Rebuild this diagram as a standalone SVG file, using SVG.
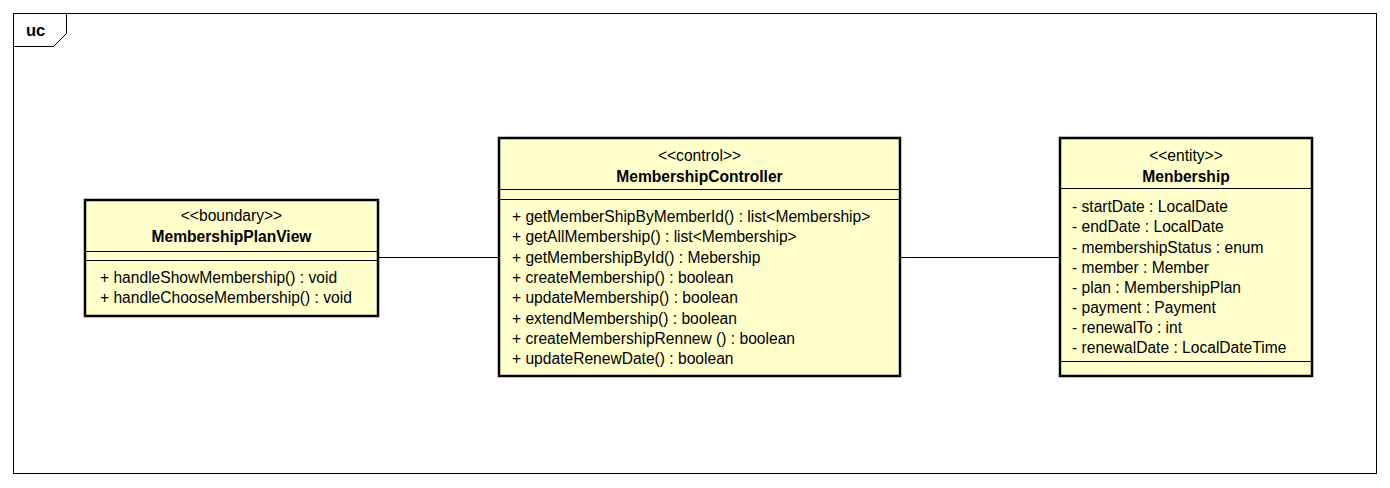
<svg xmlns="http://www.w3.org/2000/svg" width="1390" height="488" viewBox="0 0 1390 488">
<style>
.box{fill:#ffffcc;stroke:#000;stroke-width:2.5}
.sep{stroke:#000;stroke-width:1}
.t{font-family:"Liberation Sans",Arial,sans-serif;font-size:15.6px;fill:#000}
.c{text-anchor:middle}
.b{font-weight:bold}
.conn{stroke:#000;stroke-width:1;fill:none}
</style>
<rect width="1390" height="488" fill="#fff"/>
<g id="frame">
<rect x="13.5" y="13.5" width="1363" height="460" fill="none" stroke="#000" stroke-width="1"/>
<path d="M13.5 46.5 H53.5 L66.5 33.5 V13.5" fill="none" stroke="#000" stroke-width="1"/>
<text x="26" y="36" class="t b" style="font-size:16.5px">uc</text>
</g>
<g id="connectors">
<line x1="378" y1="257.5" x2="499" y2="257.5" class="conn"/>
<line x1="900" y1="257.5" x2="1060" y2="257.5" class="conn"/>
</g>
<g id="MembershipPlanView">
<rect x="85" y="200" width="293" height="116" class="box"/>
<line x1="85" y1="251.5" x2="378" y2="251.5" class="sep"/>
<line x1="85" y1="260.5" x2="378" y2="260.5" class="sep"/>
<text x="231.5" y="220.5" class="t c">&lt;&lt;boundary&gt;&gt;</text>
<text x="231.5" y="241.5" class="t c b">MembershipPlanView</text>
<text x="100" y="282.5" class="t">+ handleShowMembership() : void</text>
<text x="100" y="302.5" class="t">+ handleChooseMembership() : void</text>
</g>
<g id="MembershipController">
<rect x="499" y="138" width="401" height="238" class="box"/>
<line x1="499" y1="189.5" x2="900" y2="189.5" class="sep"/>
<line x1="499" y1="199.5" x2="900" y2="199.5" class="sep"/>
<text x="699.5" y="160.5" class="t c">&lt;&lt;control&gt;&gt;</text>
<text x="699.5" y="181.5" class="t c b">MembershipController</text>
<text x="512" y="221.5" class="t">+ getMemberShipByMemberId() : list&lt;Membership&gt;</text>
<text x="512" y="241.5" class="t">+ getAllMembership() : list&lt;Membership&gt;</text>
<text x="512" y="262.5" class="t">+ getMembershipById() : Mebership</text>
<text x="512" y="282.5" class="t">+ createMembership() : boolean</text>
<text x="512" y="302.5" class="t">+ updateMembership() : boolean</text>
<text x="512" y="323.5" class="t">+ extendMembership() : boolean</text>
<text x="512" y="343.5" class="t">+ createMembershipRennew () : boolean</text>
<text x="512" y="363.5" class="t">+ updateRenewDate() : boolean</text>
</g>
<g id="Menbership">
<rect x="1060" y="138" width="252" height="238" class="box"/>
<line x1="1060" y1="188.5" x2="1312" y2="188.5" class="sep"/>
<line x1="1060" y1="361.5" x2="1312" y2="361.5" class="sep"/>
<text x="1186" y="160.5" class="t c">&lt;&lt;entity&gt;&gt;</text>
<text x="1186" y="181.5" class="t c b">Menbership</text>
<text x="1072" y="211.5" class="t">- startDate : LocalDate</text>
<text x="1072" y="231.5" class="t">- endDate : LocalDate</text>
<text x="1072" y="252.5" class="t">- membershipStatus : enum</text>
<text x="1072" y="272.5" class="t">- member : Member</text>
<text x="1072" y="292.5" class="t">- plan : MembershipPlan</text>
<text x="1072" y="312.5" class="t">- payment : Payment</text>
<text x="1072" y="332.5" class="t">- renewalTo : int</text>
<text x="1072" y="352.5" class="t">- renewalDate : LocalDateTime</text>
</g>
</svg>
